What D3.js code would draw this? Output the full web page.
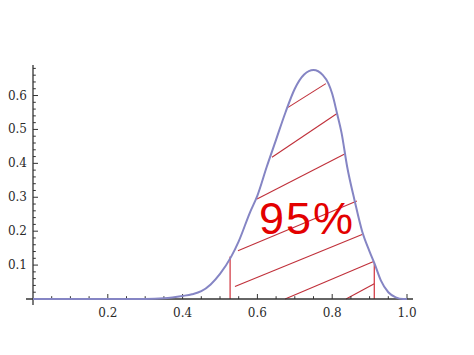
<!DOCTYPE html>
<html>
<head>
<meta charset="utf-8">
<script src="https://cdn.jsdelivr.net/npm/d3@7"></script>
<style>
  body { margin: 0; background: #fff; }
  svg { display: block; }
</style>
</head>
<body>
<svg id="chart"></svg>
<script>
// curve (x, density)
var curveX = [0, 0.1, 0.2, 0.3, 0.35, 0.4, 0.425, 0.45, 0.475, 0.5, 0.53, 0.55, 0.58, 0.6, 0.625, 0.65, 0.675, 0.7, 0.725, 0.75, 0.775, 0.79, 0.8, 0.813, 0.825, 0.84, 0.86, 0.88, 0.9, 0.913, 0.93, 0.95, 0.97, 0.99, 1.0];
var curveY = [0, 0, 0, 0, 0.002, 0.009, 0.014, 0.023, 0.043, 0.074, 0.125, 0.17, 0.255, 0.305, 0.39, 0.47, 0.55, 0.62, 0.662, 0.675, 0.66, 0.635, 0.605, 0.547, 0.49, 0.39, 0.29, 0.2, 0.14, 0.105, 0.055, 0.02, 0.005, 0, 0];

// interval bounds (vertical red lines)
var boundX = [0.527, 0.9125];
var boundTop = [0.125, 0.106];

// hatch lines: start (x0,y0) -> end (x1,y1)
var hatchX0 = [0.682, 0.639, 0.599, 0.548, 0.540, 0.674, 0.837];
var hatchY0 = [0.565, 0.418, 0.295, 0.142, 0.037, 0.0, 0.0];
var hatchX1 = [0.783, 0.813, 0.832, 0.866, 0.880, 0.909, 0.9125];
var hatchY1 = [0.635, 0.547, 0.427, 0.289, 0.190, 0.110, 0.045];

var xTicks = [0.2, 0.4, 0.6, 0.8, 1.0];
var yTicks = [0.1, 0.2, 0.3, 0.4, 0.5, 0.6];
var label = "95%";

var width = 474, height = 355;

var svg = d3.select("#chart")
    .attr("width", width)
    .attr("height", height);

var x = d3.scaleLinear().domain([0, 1]).range([33, 407]);
var y = d3.scaleLinear().domain([0, 0.69]).range([299, 65]);

var pts = curveX.map((v, i) => [v, curveY[i]]);

// hatching
var hatch = hatchX0.map((v, i) => ({ x0: v, y0: hatchY0[i], x1: hatchX1[i], y1: hatchY1[i] }));
svg.selectAll('line.hatch')
    .data(hatch)
    .enter()
    .append('line')
    .attr('class', 'hatch')
    .attr('x1', d => x(d.x0))
    .attr('y1', d => y(d.y0))
    .attr('x2', d => x(d.x1))
    .attr('y2', d => y(d.y1))
    .attr('stroke', '#c0303a')
    .attr('stroke-width', 1.1);

svg.selectAll('line.bound')
    .data(boundX)
    .enter()
    .append('line')
    .attr('class', 'bound')
    .attr('x1', d => x(d))
    .attr('x2', d => x(d))
    .attr('y1', y(0))
    .attr('y2', (d, i) => y(boundTop[i]))
    .attr('stroke', '#d0303a')
    .attr('stroke-width', 1.2);

// axes (Mathematica style, ticks pointing inward)
var axisColor = '#333';

svg.append('line')
    .attr('x1', 26).attr('x2', 413)
    .attr('y1', y(0)).attr('y2', y(0))
    .attr('stroke', axisColor).attr('stroke-width', 1.3);

svg.append('line')
    .attr('x1', x(0)).attr('x2', x(0))
    .attr('y1', 65).attr('y2', 305)
    .attr('stroke', axisColor).attr('stroke-width', 1.3);

var xMinor = d3.range(0.05, 1.001, 0.05);
svg.selectAll('line.xtick')
    .data(xMinor)
    .enter()
    .append('line')
    .attr('class', 'xtick')
    .attr('x1', d => x(d)).attr('x2', d => x(d))
    .attr('y1', y(0))
    .attr('y2', d => y(0) - (xTicks.some(t => Math.abs(t - d) < 1e-6) ? 5 : 2.8))
    .attr('stroke', axisColor).attr('stroke-width', 1);

var yMinor = d3.range(0.02, 0.681, 0.02);
svg.selectAll('line.ytick')
    .data(yMinor)
    .enter()
    .append('line')
    .attr('class', 'ytick')
    .attr('y1', d => y(d)).attr('y2', d => y(d))
    .attr('x1', x(0))
    .attr('x2', d => x(0) + (yTicks.some(t => Math.abs(t - d) < 1e-6) ? 5 : 2.8))
    .attr('stroke', axisColor).attr('stroke-width', 1);

svg.selectAll('text.xlab')
    .data(xTicks)
    .enter()
    .append('text')
    .attr('class', 'xlab')
    .attr('x', d => x(d))
    .attr('y', 317)
    .attr('text-anchor', 'middle')
    .attr('font-family', 'DejaVu Serif')
    .attr('font-size', '12px')
    .attr('fill', '#2a2a2a')
    .text(d => d.toFixed(1));

svg.selectAll('text.ylab')
    .data(yTicks)
    .enter()
    .append('text')
    .attr('class', 'ylab')
    .attr('x', 27)
    .attr('y', d => y(d) + 4)
    .attr('text-anchor', 'end')
    .attr('font-family', 'DejaVu Serif')
    .attr('font-size', '12px')
    .attr('fill', '#2a2a2a')
    .text(d => d.toFixed(1));

// density curve
var line = d3.line()
    .x(d => x(d[0]))
    .y(d => y(d[1]))
    .curve(d3.curveMonotoneX);

svg.append('path')
    .datum(pts)
    .attr('d', line)
    .attr('fill', 'none')
    .attr('stroke', '#8585c4')
    .attr('stroke-width', 2);

svg.append('text')
    .attr('x', 259)
    .attr('y', 234)
    .attr('font-family', 'Liberation Sans, Arial, sans-serif')
    .attr('font-size', '45px')
    .attr('letter-spacing', '2px')
    .attr('fill', '#e30000')
    .text(label);
</script>
</body>
</html>
